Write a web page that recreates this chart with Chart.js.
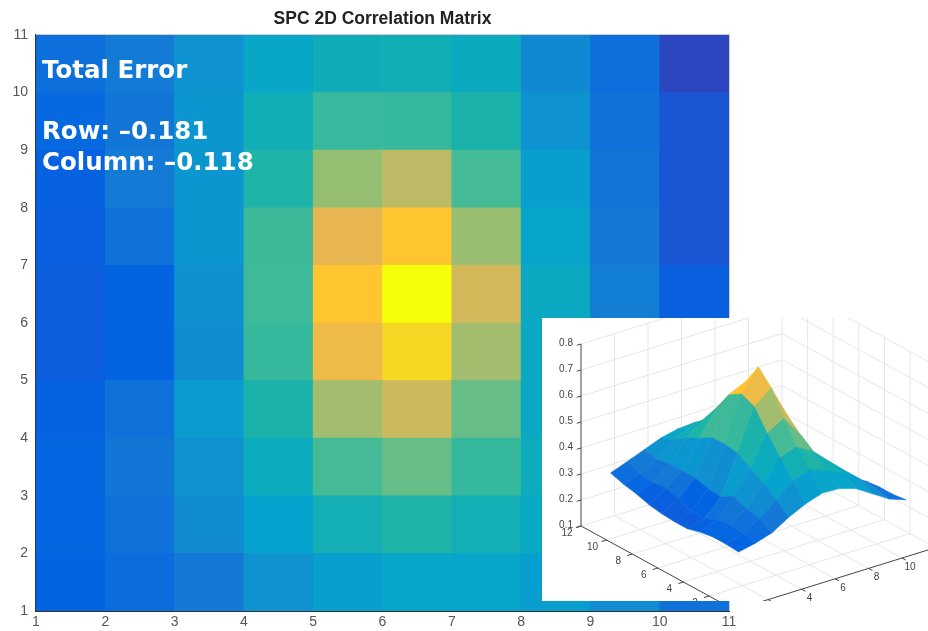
<!DOCTYPE html>
<html>
<head>
<meta charset="utf-8">
<title>SPC 2D Correlation Matrix</title>
<script src="https://cdn.jsdelivr.net/npm/chart.js@4"></script>
<style>
  html, body { margin: 0; padding: 0; background: #fff; }
  #wrap { position: relative; width: 928px; height: 631px; overflow: hidden; }
  #heat { position: absolute; left: 0; top: 0; }
  #inset { position: absolute; left: 542px; top: 318px; background: #fff; }
  .note { position: absolute; left: 42px; color: #fff; font: bold 24.5px "DejaVu Sans"; line-height: 30px; white-space: nowrap; }
</style>
</head>
<body>
<div id="wrap">
  <canvas id="heat" width="928" height="631"></canvas>
  <div class="note" style="top:55px">Total Error</div>
  <div class="note" style="top:116px">Row: –0.181</div>
  <div class="note" style="top:147px">Column: –0.118</div>
  <canvas id="inset" width="386" height="283"></canvas>
</div>
<script>
// === Data: correlation per grid node, row 1 is the bottom of the matrix ===
const row1  = [.276,.290,.310,.350,.381,.403,.400,.380,.340,.300,.277];
const row2  = [.280,.299,.337,.390,.443,.465,.443,.412,.360,.310,.270];
const row3  = [.280,.307,.350,.428,.503,.525,.488,.428,.370,.315,.270];
const row4  = [.272,.299,.370,.458,.571,.609,.525,.420,.350,.300,.265];
const row5  = [.258,.276,.340,.488,.647,.700,.570,.420,.350,.280,.250];
const row6  = [.258,.276,.345,.496,.669,.753,.617,.420,.320,.262,.240];
const row7  = [.262,.299,.360,.495,.639,.669,.564,.400,.310,.230,.220];
const row8  = [.270,.314,.360,.465,.560,.594,.503,.380,.305,.230,.210];
const row9  = [.285,.307,.360,.440,.490,.488,.458,.350,.300,.230,.200];
const row10 = [.295,.314,.350,.405,.435,.440,.425,.335,.295,.186,.170];
const row11 = [.311,.335,.360,.385,.400,.405,.390,.340,.280,.220,.180];
const matrix = [row1,row2,row3,row4,row5,row6,row7,row8,row9,row10,row11];

const heatTicks = [1,2,3,4,5,6,7,8,9,10,11];
const columnNames = ['1','2','3','4','5','6','7','8','9','10'];
const zTicks = [.1,.2,.3,.4,.5,.6,.7,.8];
const xTicks3d = [2,4,6,8,10];
const yTicks3d = [12,10,8,6,4,2];

// colour ramp: [value, colour]
const rampValues = [.186,.231,.276,.31,.345,.39,.428,.465,.503,.54,.575,.605,.64,.669,.70,.753];
const rampColors = ['#2c46bf','#1a55d4','#0364e2','#1378d6','#0f90d0','#06a3ce','#0cabbd','#1fb4a8','#45ba96','#7cbf7c','#a8bd6c','#c8b95f','#e8b650','#ffc52e','#f5d824','#f6ff0a'];

function hexRgb(h) { return [1,3,5].map(i => parseInt(h.substr(i,2),16)); }
function colorOf(v) {
  if (v <= rampValues[0]) return rampColors[0];
  for (let i = 1; i < rampValues.length; i++) {
    if (v <= rampValues[i]) {
      const t = (v - rampValues[i-1]) / (rampValues[i] - rampValues[i-1]);
      const a = hexRgb(rampColors[i-1]), b = hexRgb(rampColors[i]);
      return `rgb(${a.map((c,k) => Math.round(c + (b[k]-c)*t)).join(',')})`;
    }
  }
  return rampColors[rampColors.length-1];
}

// === Main heatmap ===
const tickFont = { family: '"Liberation Sans"', size: 14 };
const heatSets = matrix.slice(0,10).map((row, r) => ({
  data: row.slice(0,10).map(() => [r+1, r+2]),
  backgroundColor: row.slice(0,10).map(colorOf),
  borderWidth: 0,
  barPercentage: 1,
  categoryPercentage: 1,
  grouped: false
}));

const frameEdge = {
  id: 'frameEdge',
  afterDraw(c) {
    const a = c.chartArea, g = c.ctx;
    g.save();
    g.strokeStyle = '#cfcfcf';
    g.beginPath();
    g.moveTo(a.left, a.top-0.5); g.lineTo(a.right+0.5, a.top-0.5); g.lineTo(a.right+0.5, a.bottom);
    g.stroke();
    g.restore();
  }
};

new Chart(document.getElementById('heat'), {
  type: 'bar',
  data: { labels: columnNames, datasets: heatSets },
  plugins: [frameEdge],
  options: {
    responsive: false,
    animation: false,
    layout: { padding: { right: 199 } },
    plugins: {
      legend: { display: false },
      tooltip: { enabled: false },
      title: {
        display: true, text: 'SPC 2D Correlation Matrix', fullSize: false,
        color: '#222', font: { family: '"Liberation Sans"', size: 17.5, weight: 'bold' },
        padding: { top: 9, bottom: 5 }
      }
    },
    scales: {
      x: { display: false },
      x2: {
        type: 'linear', axis: 'x', position: 'bottom', min: 1, max: 11, offset: false,
        afterFit(s) { s.height = 20; },
        afterBuildTicks(s) { s.ticks = heatTicks.map(v => ({ value: v })); },
        grid: { offset: false, drawOnChartArea: false, drawTicks: false },
        border: { color: '#333', width: 2 },
        ticks: { color: '#555', font: tickFont, padding: 3, maxRotation: 0, autoSkip: false }
      },
      y: {
        min: 1, max: 11,
        afterFit(s) { s.width = 36; },
        afterBuildTicks(s) { s.ticks = heatTicks.map(v => ({ value: v })); },
        grid: { drawOnChartArea: false, drawTicks: false },
        border: { color: '#333', width: 2 },
        ticks: { color: '#555', font: tickFont, padding: 8, autoSkip: false }
      }
    }
  }
});

// === Inset surface ===
const origin = [39, 208], xStep = [16.75, -5.2], yStep = [12.8, 7], zStep = 260;
function proj(x, y, z) {
  return {
    x: origin[0] + xStep[0]*x + yStep[0]*(12-y),
    y: origin[1] + xStep[1]*x + yStep[1]*(12-y) - (z-.1)*zStep
  };
}
function polyline(pts, color, width) {
  return { data: pts, showLine: true, fill: false, borderColor: color, borderWidth: width, pointRadius: 0 };
}

const insetSets = [];
// front facets first, the library paints the first dataset on top
for (let j = 1; j <= 10; j++) {
  for (let i = 1; i <= 10; i++) {
    const c = colorOf(matrix[j-1][i-1]);
    insetSets.push({
      data: [
        proj(i, j, matrix[j-1][i-1]), proj(i+1, j, matrix[j-1][i]),
        proj(i+1, j+1, matrix[j][i]), proj(i, j+1, matrix[j][i-1]),
        proj(i, j, matrix[j-1][i-1])
      ],
      showLine: true, fill: 'shape', backgroundColor: c, borderColor: c, borderWidth: 0.6, pointRadius: 0
    });
  }
}

// axes and ticks
const axisColor = '#444', gridColor = '#e6e6e6';
insetSets.push(polyline([proj(0,12,.1), proj(0,12,.8)], axisColor, 1));
insetSets.push(polyline([proj(0,12,.1), proj(0,0,.1)], axisColor, 1));
insetSets.push(polyline([proj(0,0,.1), proj(12,0,.1)], axisColor, 1));
zTicks.forEach(z => insetSets.push(polyline([proj(0,12,z), proj(-.25,12,z)], axisColor, 1)));
yTicks3d.forEach(y => insetSets.push(polyline([proj(0,y,.1), proj(-.3,y,.1)], axisColor, 1)));
xTicks3d.forEach(x => insetSets.push(polyline([proj(x,0,.1), proj(x,-.3,.1)], axisColor, 1)));

// walls and floor
zTicks.forEach(z => {
  insetSets.push(polyline([proj(0,12,z), proj(12,12,z)], gridColor, 1));
  insetSets.push(polyline([proj(12,12,z), proj(12,0,z)], gridColor, 1));
});
xTicks3d.concat([12]).forEach(x => {
  insetSets.push(polyline([proj(x,12,.1), proj(x,12,.8)], gridColor, 1));
  if (x < 12) insetSets.push(polyline([proj(x,12,.1), proj(x,0,.1)], gridColor, 1));
});
yTicks3d.forEach(y => {
  if (y < 12) {
    insetSets.push(polyline([proj(12,y,.1), proj(12,y,.8)], gridColor, 1));
    insetSets.push(polyline([proj(0,y,.1), proj(12,y,.1)], gridColor, 1));
  }
});

const insetLabels = {
  id: 'insetLabels',
  afterDraw(c) {
    const g = c.ctx, sx = c.scales.x, sy = c.scales.y;
    const put = (p, dx, dy, txt, align) => {
      g.textAlign = align;
      g.fillText(txt, sx.getPixelForValue(p.x) + dx, sy.getPixelForValue(p.y) + dy);
    };
    g.save();
    g.font = '10px "Liberation Sans"';
    g.fillStyle = '#444';
    g.textBaseline = 'middle';
    zTicks.forEach(z => put(proj(0,12,z), -8, -1, z.toFixed(1), 'right'));
    yTicks3d.forEach(y => put(proj(0,y,.1), -14, 7, String(y), 'center'));
    xTicks3d.forEach(x => put(proj(x,0,.1), 8, 9, String(x), 'center'));
    g.restore();
  }
};

new Chart(document.getElementById('inset'), {
  type: 'scatter',
  data: { datasets: insetSets },
  plugins: [insetLabels],
  options: {
    responsive: false,
    animation: false,
    layout: { padding: 0 },
    plugins: { legend: { display: false }, tooltip: { enabled: false } },
    scales: {
      x: { display: false, min: 0, max: 386 },
      y: { display: false, min: 0, max: 283, reverse: true }
    }
  }
});
</script>
</body>
</html>
